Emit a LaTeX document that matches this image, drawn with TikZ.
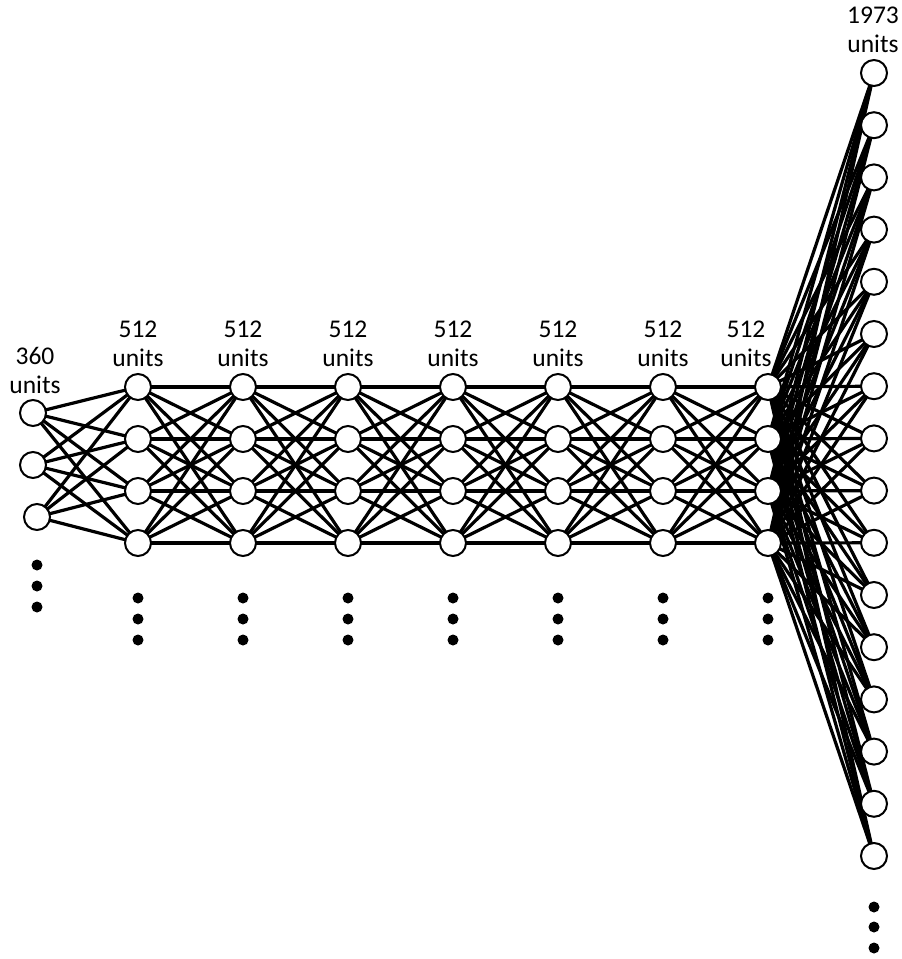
\documentclass[tikz,border=0pt]{standalone}
\usepackage{fontspec}
\setmainfont{Carlito}
\begin{document}
\begin{tikzpicture}[x=1pt,y=-1pt,
  unit/.style={circle,draw=black,line width=2pt,fill=white,minimum size=26pt,inner sep=0pt},
  edge/.style={line width=3.2pt,black},
  dotmark/.style={circle,fill=black,minimum size=11pt,inner sep=0pt},
  lbl/.style={font=\fontsize{25.5}{29}\selectfont,align=center,inner sep=0pt}]
\useasboundingbox (0,0) rectangle (902,959);
% input layer
\coordinate (i1) at (33,413);
\coordinate (i2) at (33,465);
\coordinate (i3) at (37,517);
% hidden layers
\foreach \l/\x in {1/138,2/243,3/348,4/453,5/558,6/663,7/768}{
  \foreach \r/\y in {1/387,2/439,3/491,4/543}{
    \coordinate (h\l-\r) at (\x,\y);
  }
}
% output layer
\foreach \k in {1,...,16}{
  \coordinate (o\k) at (874,{73+(\k-1)*52.2});
}
% edges
\foreach \a in {1,2,3}{\foreach \b in {1,...,4}{\draw[edge] (i\a) -- (h1-\b);}}
\foreach \l [evaluate=\l as \n using int(\l+1)] in {1,...,6}{
  \foreach \a in {1,...,4}{\foreach \b in {1,...,4}{\draw[edge] (h\l-\a) -- (h\n-\b);}}
}
\foreach \a in {1,...,4}{\foreach \b in {1,...,16}{\draw[edge] (h7-\a) -- (o\b);}}
% nodes
\foreach \a in {1,2,3}{\node[unit] (I\a) at (i\a) {};}
\foreach \l in {1,...,7}{\foreach \r in {1,...,4}{\node[unit] (H\l-\r) at (h\l-\r) {};}}
\foreach \k in {1,...,16}{\node[unit] (O\k) at (o\k) {};}
% dots
\foreach \y in {565,586,607}{\node[dotmark] (di\y) at (37,\y) {};}
\foreach \x in {138,243,348,453,558,663,768}{
  \foreach \y in {598,619,640}{\node[dotmark] (dh\x-\y) at (\x,\y) {};}
}
\foreach \y in {907,927,948}{\node[dotmark] (do\y) at (874,\y) {};}
% labels
\node[lbl] (Li) at (35,370) {360\\units};
\foreach \x in {138,243,348,453,558,663}{\node[lbl] (Lh\x) at (\x,344) {512\\units};}
\node[lbl] (Lh768) at (746,344) {512\\units};
\node[lbl] (Lo) at (873,30) {1973\\units};
\end{tikzpicture}
\end{document}
